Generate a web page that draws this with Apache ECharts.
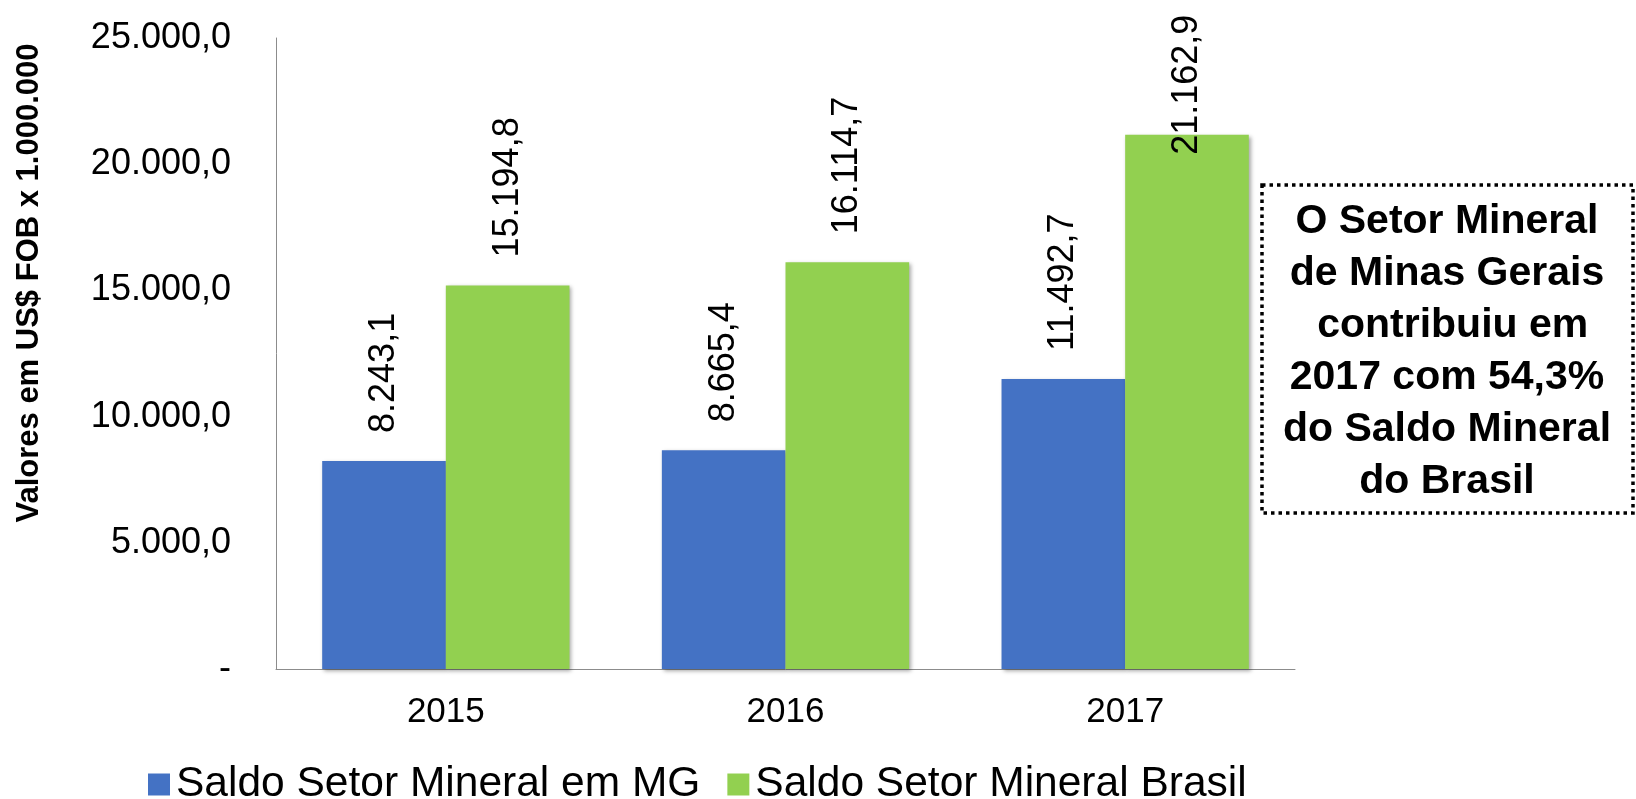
<!DOCTYPE html>
<html>
<head>
<meta charset="utf-8">
<title>Saldo Setor Mineral</title>
<script src="https://cdn.jsdelivr.net/npm/echarts@6/dist/echarts.min.js"></script>
<style>
    html, body { margin: 0; padding: 0; background: #fff; }
    #main { width: 1636px; height: 799px; }
</style>
</head>
<body>
<div id="main"></div>
<script>
// dados
var anos = ['2015', '2016', '2017'];
var saldoMG = [8243.1, 8665.4, 11492.7];
var saldoBrasil = [15194.8, 16114.7, 21162.9];
var nomesSeries = ['Saldo Setor Mineral em MG', 'Saldo Setor Mineral Brasil'];
var textoBox = ['O Setor Mineral', 'de Minas Gerais', ' contribuiu em', '2017 com 54,3%', 'do Saldo Mineral', 'do Brasil'];

var fonte = 'Arial, "Liberation Sans", sans-serif';

// formato 1.234,5
function fmt(v) {
    var partes = v.toFixed(1).split('.');
    var inteiro = partes[0].replace(/\B(?=(\d{3})+(?!\d))/g, '.');
    return inteiro + ',' + partes[1];
}

var labelBarra = {
    show: true,
    position: 'top',
    rotate: 90,
    align: 'left',
    verticalAlign: 'middle',
    distance: 28,
    color: '#000',
    fontFamily: fonte,
    fontSize: 36,
    formatter: function (p) { return fmt(p.value); }
};

var sombra = {
    shadowColor: 'rgba(0,0,0,0.35)',
    shadowBlur: 4,
    shadowOffsetX: 2,
    shadowOffsetY: 2
};

// o rótulo de 2017 (Brasil) foi puxado para dentro da barra, como no original
var dadosBrasil = saldoBrasil.map(function (v, i) {
    if (i === 2) {
        return { value: v, label: { distance: -20 } };
    }
    return v;
});

var myChart = echarts.init(document.getElementById('main'));

var option = {
    backgroundColor: '#fff',
    animation: false,
    textStyle: { fontFamily: fonte },
    grid: {
        left: 276,
        right: 341,
        top: 38,
        bottom: 130
    },
    legend: {
        left: 143,
        top: 758,
        itemWidth: 22,
        itemHeight: 22,
        itemGap: 27,
        icon: 'rect',
        textStyle: {
            color: '#000',
            fontFamily: fonte,
            fontSize: 42.5,
            padding: [0, 0, 0, 1]
        },
        data: nomesSeries
    },
    xAxis: {
        type: 'category',
        data: anos,
        axisLine: { lineStyle: { color: '#8c8c8c', width: 1 } },
        axisTick: { show: false },
        axisLabel: {
            color: '#000',
            fontFamily: fonte,
            fontSize: 35,
            margin: 26
        }
    },
    yAxis: {
        type: 'value',
        min: 0,
        max: 25000,
        interval: 5000,
        axisLine: { show: true, lineStyle: { color: '#8c8c8c', width: 1 } },
        axisTick: { show: false },
        splitLine: { show: false },
        axisLabel: {
            color: '#000',
            fontFamily: fonte,
            fontSize: 36,
            margin: 45,
            formatter: function (v) { return v === 0 ? '-' : fmt(v); }
        }
    },
    series: [
        {
            name: nomesSeries[0],
            type: 'bar',
            data: saldoMG,
            barWidth: '36.4%',
            barGap: '0%',
            itemStyle: Object.assign({ color: '#4472C4' }, sombra),
            label: labelBarra
        },
        {
            name: nomesSeries[1],
            type: 'bar',
            data: dadosBrasil,
            barWidth: '36.4%',
            barGap: '0%',
            itemStyle: Object.assign({ color: '#92D050' }, sombra),
            label: labelBarra
        }
    ],
    graphic: [
        {
            // título do eixo y
            type: 'text',
            x: 29,
            y: 283,
            rotation: Math.PI / 2,
            style: {
                text: 'Valores em US$ FOB x 1.000.000',
                fill: '#000',
                font: 'bold 31px ' + fonte,
                textAlign: 'center',
                textVerticalAlign: 'middle'
            }
        },
        {
            type: 'rect',
            shape: { x: 1262, y: 185, width: 371, height: 328 },
            style: {
                fill: 'transparent',
                stroke: '#000',
                lineWidth: 3.5,
                lineDash: [3.5, 4]
            }
        },
        {
            type: 'text',
            x: 1447,
            y: 352,
            style: {
                text: textoBox.join('\n'),
                fill: '#000',
                font: 'bold 41px ' + fonte,
                lineHeight: 52,
                textAlign: 'center',
                textVerticalAlign: 'middle'
            }
        }
    ]
};

myChart.setOption(option);
</script>
</body>
</html>
